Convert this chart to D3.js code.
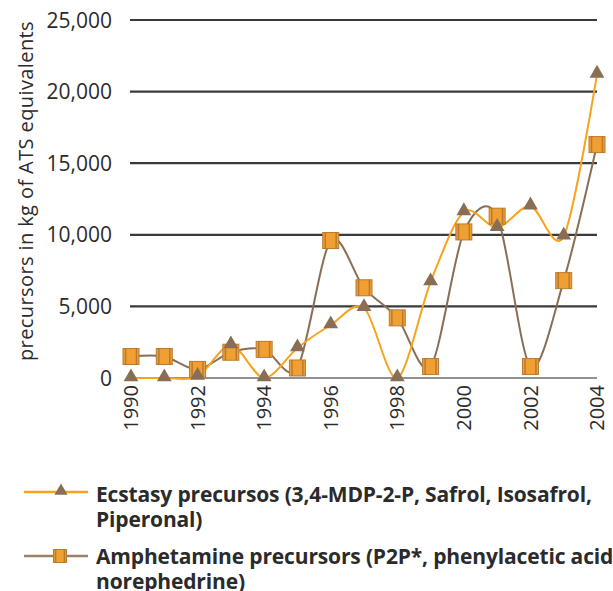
<!DOCTYPE html>
<html>
<head>
<meta charset="utf-8">
<script src="https://cdn.jsdelivr.net/npm/d3@7"></script>
<style>
  body { margin: 0; background: #fff; }
  svg text { font-family: "Open Sans", "Noto Sans", sans-serif; fill: #2b2b2b; }
</style>
</head>
<body>
<div id="chart"></div>
<script>
var years = [1990, 1991, 1992, 1993, 1994, 1995, 1996, 1997, 1998, 1999, 2000, 2001, 2002, 2003, 2004];
var ecstasy = [0, 0, 100, 2300, 0, 2100, 3700, 4900, 0, 6700, 11600, 10500, 12000, 9900, 21200];
var amphet = [1500, 1500, 600, 1800, 2000, 700, 9600, 6300, 4200, 800, 10200, 11300, 800, 6800, 16300];
var yTicks = [0, 5000, 10000, 15000, 20000, 25000];
var xLabels = [1990, 1992, 1994, 1996, 1998, 2000, 2002, 2004];
var legendLabels = [
    ["Ecstasy precursos (3,4-MDP-2-P, Safrol, Isosafrol,", "Piperonal)"],
    ["Amphetamine precursors (P2P*, phenylacetic acid,", "norephedrine)"]
];

var width = 613, height = 591;
var orange = "#f6a41e", brown = "#8a6d55", sqFill = "#f0a032", sqEdge = "#b97a30";

var svg = d3.select("#chart").append("svg")
    .attr("width", width)
    .attr("height", height);

var x = d3.scaleLinear()
    .domain([1990, 2004])
    .range([131, 597]);

var y = d3.scaleLinear()
    .domain([0, 25000])
    .range([378, 20]);

// grid lines
svg.append("g").selectAll("line")
    .data(yTicks)
    .enter().append("line")
    .attr("x1", 130)
    .attr("x2", 597)
    .attr("y1", function(d) { return y(d); })
    .attr("y2", function(d) { return y(d); })
    .style("stroke", function(d) { return d === 0 ? "#222" : "#3a3a3a"; })
    .style("stroke-width", function(d) { return d === 0 ? 1.2 : 2.2; });

// y labels
svg.append("g").selectAll("text")
    .data(yTicks)
    .enter().append("text")
    .attr("x", 112)
    .attr("y", function(d) { return y(d); })
    .attr("dy", "0.36em")
    .attr("text-anchor", "end")
    .style("font-size", "21px")
    .text(function(d) { return d3.format(",")(d); });

svg.append("text")
    .attr("transform", "translate(33,191) rotate(-90)")
    .attr("text-anchor", "middle")
    .style("font-size", "20px")
    .style("letter-spacing", "0.4px")
    .text("precursors in kg of ATS equivalents");

// x labels
svg.append("g").selectAll("text")
    .data(xLabels)
    .enter().append("text")
    .attr("transform", function(d) { return "translate(" + x(d) + ",385) rotate(-90)"; })
    .attr("dy", "0.36em")
    .attr("text-anchor", "end")
    .style("font-size", "20px")
    .text(function(d) { return d; });

var line = d3.line()
    .x(function(d, i) { return x(years[i]); })
    .y(function(d) { return y(d); })
    .curve(d3.curveCardinal.tension(0.1));

svg.append("path")
    .datum(amphet)
    .attr("d", line)
    .style("fill", "none")
    .style("stroke", brown)
    .style("stroke-width", 2);

svg.append("path")
    .datum(ecstasy)
    .attr("d", line)
    .style("fill", "none")
    .style("stroke", orange)
    .style("stroke-width", 2);

function drawSquare(g, cx, cy, s) {
    var h = s / 2, k = s * 0.34;
    g.append("rect")
        .attr("x", cx - h).attr("y", cy - h)
        .attr("width", s).attr("height", s)
        .style("fill", sqFill)
        .style("stroke", sqEdge)
        .style("stroke-width", 1);
    [-k, k].forEach(function(o) {
        g.append("line")
            .attr("x1", cx + o).attr("x2", cx + o)
            .attr("y1", cy - h).attr("y2", cy + h)
            .style("stroke", sqEdge).style("stroke-width", 1.5);
    });
}

var sqG = svg.append("g");
amphet.forEach(function(d, i) {
    drawSquare(sqG, x(years[i]), y(d), 16);
});

svg.append("g").selectAll("path")
    .data(ecstasy)
    .enter().append("path")
    .attr("d", d3.symbol().type(d3.symbolTriangle).size(95))
    .attr("transform", function(d, i) { return "translate(" + x(years[i]) + "," + (y(d) - 1) + ")"; })
    .style("fill", brown);

// legend
var legendY = [492, 556];
var lg = svg.append("g");
legendY.forEach(function(ly, i) {
    lg.append("line")
        .attr("x1", 24).attr("x2", 88)
        .attr("y1", ly).attr("y2", ly)
        .style("stroke", i === 0 ? orange : "#9c8169")
        .style("stroke-width", 2.5);
    if (i === 0) {
        lg.append("path")
            .attr("d", d3.symbol().type(d3.symbolTriangle).size(75))
            .attr("transform", "translate(61," + (ly - 1) + ")")
            .style("fill", brown);
    } else {
        drawSquare(lg, 60, ly, 13);
    }
    var t = lg.append("text")
        .attr("x", 96)
        .attr("y", ly + (i === 0 ? 10 : 8))
        .style("font-size", "21px")
        .style("font-weight", "bold")
        .style("letter-spacing", "-0.15px");
    legendLabels[i].forEach(function(s, j) {
        t.append("tspan")
            .attr("x", 96)
            .attr("dy", j === 0 ? 0 : 25)
            .text(s);
    });
});
</script>
</body>
</html>
